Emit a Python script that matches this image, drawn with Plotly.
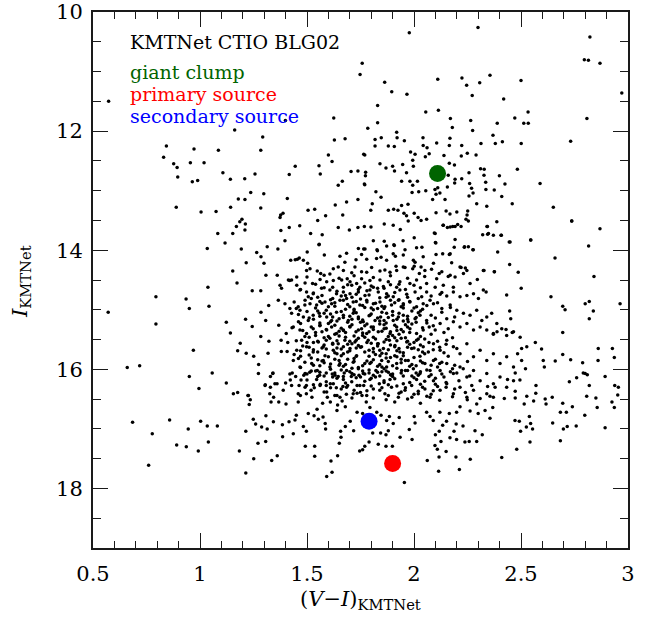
import plotly.graph_objects as go

# ---------------- data: (V-I, I) of field stars, grouped by CMD region ----------------
bright_field = [
    (1.978,10.35),(2.299,10.26),(2.822,10.42),(2.796,10.80),(2.815,10.81),(2.869,10.86),(1.758,10.86),
    (1.748,11.05),(1.863,11.18),(1.896,11.34),(1.967,11.38),(2.111,11.13),(2.224,11.11),(2.246,11.23),
    (2.307,11.19),(2.355,11.06),(2.272,11.40),(2.419,11.46),(2.50,11.15),(2.971,11.36),(1.830,11.57),
    (2.055,11.68),(2.114,11.65),(2.170,11.79),(2.265,11.82),(2.389,11.87),(2.471,11.78),(2.513,11.87),
    (2.534,11.87),(2.533,11.68),(2.808,11.79),(1.830,11.86),(1.784,11.95),(1.919,12.02),(1.921,12.11),
    (1.847,12.11),(1.818,12.14),(1.955,12.16),(2.042,12.11),(2.179,11.94),(2.274,11.99),(2.168,12.12),
    (2.369,12.07),(2.413,12.18),(2.732,12.17),(0.573,11.50),(1.399,11.82),(1.625,11.78),(1.162,11.98),
    (1.293,12.10),(1.628,12.15),(1.678,12.13),
]

disk_sequence = [
    (0.843,12.25),(0.972,12.30),(1.086,12.32),(1.284,12.32),(0.830,12.44),(0.877,12.55),(0.893,12.61),
    (0.955,12.53),(1.019,12.53),(0.896,12.77),(0.964,12.85),(0.989,12.83),(1.107,12.70),(1.142,12.81),
    (1.209,12.80),(1.257,12.72),(1.237,13.03),(1.298,13.05),(1.179,13.14),(1.210,13.15),(0.889,13.28),
    (1.005,13.36),(1.075,13.35),(1.143,13.28),(1.284,13.29),(1.408,13.13),(1.445,12.59),(1.417,12.73),
    (1.556,12.58),(1.562,12.72),(1.600,12.40),(1.617,12.51),(1.706,12.68),(1.738,12.67),(1.665,12.84),
    (1.646,12.91),(1.770,12.40),(1.773,12.75),(1.770,12.90),(1.738,13.15),(1.685,13.19),(1.632,13.24),
    (1.505,13.33),(1.536,13.31),(1.377,13.41),(1.388,13.38),(1.374,13.45),(1.196,13.48),(1.212,13.56),
    (1.186,13.52),(1.170,13.60),(1.210,13.66),(1.153,13.72),(1.083,13.72),(1.117,13.88),(1.034,13.97),
    (1.193,13.98),(1.378,13.67),(1.417,13.62),(1.466,13.59),(1.397,13.84),(1.517,13.72),(1.556,13.91),
    (1.571,13.74),(1.550,13.50),(1.587,13.42),(1.646,13.62),(1.698,13.66),(1.667,13.41),(1.738,13.62),
    (1.768,13.60),(1.314,13.94),(1.364,13.98),(1.265,14.04),(1.285,14.11),(1.501,14.03),(1.455,14.15),
    (1.153,14.35),(1.173,14.55),(1.216,14.21),(1.299,14.22),(1.308,14.42),(1.361,14.42),(1.419,14.51),
    (1.037,14.62),(0.794,14.78),(0.935,14.82),(0.950,14.98),(1.042,14.94),(0.571,15.04),(0.794,15.24),
    (1.123,15.21),(1.142,15.39),(0.969,15.68),(1.188,15.56),(1.176,15.69),(1.216,15.73),(1.251,15.78),
    (0.660,15.97),(0.718,15.94),(0.950,16.12),(1.057,16.06),(1.244,14.68),(1.284,14.68),(1.213,15.16),
    (1.285,15.04),(1.321,14.93),(1.244,15.28),(1.284,15.45),(1.307,15.18),(1.322,15.53),(1.318,15.73),
    (1.274,15.92),(1.273,16.07),(1.340,16.07),(1.380,15.70),(1.368,15.26),(1.403,15.40),(1.379,15.51),
    (1.407,15.70),
]

clump_rgb = [
    (1.818,12.25),(1.88,12.25),(1.908,12.26),(2.043,12.24),(2.061,12.28),(2.106,12.20),(2.165,12.24),
    (2.223,12.24),(2.313,12.21),(1.765,12.39),(1.841,12.55),(1.869,12.62),(1.900,12.59),(1.909,12.67),
    (1.947,12.56),(1.965,12.70),(1.984,12.35),(2.005,12.39),(1.994,12.49),(1.997,12.59),(2.053,12.43),
    (2.071,12.38),(2.140,12.41),(2.165,12.54),(2.189,12.57),(2.221,12.42),(2.249,12.37),(2.290,12.40),
    (2.311,12.63),(2.328,12.64),(2.327,12.74),(2.257,12.70),(2.223,12.80),(2.192,12.81),(2.160,12.74),
    (1.774,12.69),(1.768,12.89),(1.822,13.02),(1.846,13.11),(1.805,13.22),(1.798,13.33),(1.942,12.84),
    (1.981,12.84),(1.994,12.91),(2.016,12.84),(1.991,13.03),(2.022,13.02),(2.055,13.00),(2.098,12.98),
    (2.111,12.95),(2.121,13.04),(2.103,13.06),(2.087,13.15),(2.156,12.94),(2.190,12.87),(2.260,12.88),
    (2.269,12.96),(2.257,13.09),(2.276,13.04),(2.293,13.22),(2.335,12.86),(2.336,12.98),(2.375,12.99),
    (2.410,13.10),(2.340,13.26),(2.145,13.15),(1.880,13.33),(1.905,13.31),(1.925,13.33),(1.953,13.38),
    (1.972,13.23),(1.942,13.25),(1.965,13.42),(2.001,13.38),(2.019,13.45),(2.033,13.50),(2.059,13.48),
    (1.861,13.56),(1.936,13.65),(1.973,13.51),(1.903,13.58),(2.103,13.37),(2.150,13.34),(2.168,13.39),
    (2.200,13.36),(2.251,13.34),(2.248,13.41),(2.243,13.48),(2.136,13.58),(2.156,13.62),(2.181,13.60),
    (2.204,13.57),(2.095,13.71),(2.341,13.60),(2.344,13.73),(2.371,13.75),(2.408,13.75),(1.799,13.61),
    (1.810,13.84),(1.861,13.85),(1.908,13.92),(1.949,13.84),(2.001,13.79),(2.037,13.95),(2.100,13.87),
    (2.134,14.06),(2.165,14.07),(2.188,13.95),(2.235,13.95),(2.254,13.94),(2.277,13.99),(2.215,14.28),
    (2.240,14.30),(1.765,13.98),(1.829,14.01),(1.846,14.12),(1.913,14.10),(1.916,14.27),(1.958,14.29),
    (1.997,14.17),(2.001,14.27),(2.033,14.28),(2.082,14.32),(2.118,14.39),(2.160,14.44),
    (2.137,13.58),(2.169,13.61),(2.192,13.60),(2.220,13.60),(2.254,13.51),(2.343,13.60),(2.321,13.74),
    (2.348,13.72),(2.387,13.52),(2.407,13.75),(2.449,13.86),(2.546,13.83),(2.737,13.51),(2.192,13.82),
    (2.102,13.88),(2.099,13.72),(2.236,13.94),(2.275,13.99),(2.169,14.06),(2.103,14.07),(2.091,14.22),
    (2.176,14.21),(2.220,14.29),(2.247,14.34),(2.231,14.39),(2.130,14.36),(2.324,14.34),(2.376,14.36),
]

red_field = [
    (2.501,12.21),(2.380,12.21),(2.483,12.64),(2.589,12.88),(2.399,12.75),(2.425,12.89),(2.459,13.22),
    (2.651,13.28),(2.737,13.51),(2.869,13.64),(2.545,13.83),(2.445,13.86),(2.391,14.03),(2.659,14.13),
    (2.816,13.93),(2.447,14.24),(2.487,14.37),(2.375,14.36),(2.327,14.34),(2.841,14.44),(2.501,14.64),
    (2.640,14.78),(2.695,14.94),(2.706,15.00),(2.800,14.90),(2.819,14.86),(2.838,15.02),(2.819,15.15),
    (2.963,14.90),(2.447,15.02),(2.452,15.15),(2.433,14.75),(2.695,15.38),(2.695,15.75),(2.732,15.84),
    (2.788,15.89),(2.861,15.65),(2.860,15.85),(2.927,15.65),(2.936,15.80),(2.567,15.55),(2.596,15.66),
    (2.604,15.85),(2.660,15.86),(2.609,15.96),(2.800,16.07),(2.521,15.99),(2.503,15.65),(2.484,15.74),
    (2.459,15.38),(2.430,15.33),(2.388,15.37),(2.371,15.41),(2.503,15.85),(2.465,15.37),(2.433,15.43),
    (2.402,15.90),(2.433,15.79),(2.465,15.96),(2.496,15.46),(2.527,15.62),(2.402,16.13),(2.433,16.30),
    (2.465,16.19),
]

core_upper = [
    (1.557,13.90),(1.827,13.99),(1.872,13.93),(1.906,13.91),(1.903,14.06),(1.950,14.08),(1.825,14.14),
    (1.872,14.17),(1.958,13.99),(2.012,13.96),(2.043,14.11),(2.005,14.20),(1.729,14.16),(1.779,14.15),
    (1.677,14.20),(1.424,14.17),(1.445,14.16),(1.464,14.13),(1.483,14.17),(1.503,14.22),(1.581,14.08),
    (1.654,14.10),(1.685,14.05),(1.740,13.97),(1.771,13.98),(1.755,14.07),
    (1.428,14.50),(1.452,14.45),(1.498,14.34),(1.514,14.31),(1.548,14.35),(1.564,14.39),(1.607,14.40),
    (1.623,14.31),(1.646,14.28),(1.670,14.34),(1.688,14.48),(1.709,14.38),(1.724,14.28),(1.755,14.36),
    (1.779,14.37),(1.802,14.29),(1.841,14.35),(1.864,14.33),(1.888,14.37),(1.919,14.34),(1.950,14.28),
    (1.994,14.31),(2.025,14.39),(2.051,14.34),(2.059,14.56),(2.012,14.50),(1.981,14.56),(1.934,14.53),
    (1.880,14.53),(1.841,14.50),(1.794,14.51),(1.755,14.48),(1.732,14.56),(1.701,14.53),(1.662,14.50),
    (1.623,14.51),(1.592,14.53),(1.561,14.49),(1.526,14.56),(1.491,14.55),(1.452,14.59),(1.413,14.50),
    (1.374,14.59),(1.670,14.62),(1.709,14.59),(1.747,14.62),(1.810,14.62),(1.857,14.61),(1.919,14.62),
    (2.106,14.48),(2.099,14.62),(2.137,14.59),(2.184,14.62),(2.262,14.56),(2.296,14.49),(2.169,14.42),
    (2.192,14.45),
]

core_middle = [
    (1.381,14.64),(1.467,14.67),(1.498,14.70),(1.506,14.78),(1.529,14.73),(1.568,14.64),(1.607,14.67),
    (1.638,14.73),(1.670,14.70),(1.701,14.73),(1.740,14.70),(1.771,14.76),(1.794,14.67),(1.833,14.70),
    (1.872,14.73),(1.903,14.78),(1.934,14.67),(1.966,14.74),(2.005,14.70),(2.036,14.78),(2.059,14.70),
    (1.366,14.84),(1.397,14.90),(1.420,14.98),(1.459,14.95),(1.491,14.84),(1.514,14.90),(1.545,14.92),
    (1.584,14.87),(1.615,14.90),(1.654,14.84),(1.685,14.81),(1.716,14.87),(1.747,14.92),(1.779,14.84),
    (1.810,14.90),(1.841,14.87),(1.864,14.95),(1.895,14.92),(1.927,14.84),(1.950,14.92),(1.981,14.87),
    (2.012,14.95),(2.043,14.90),(2.075,14.84),(1.428,15.06),(1.467,15.01),(1.483,15.12),(1.506,15.18),
    (1.529,15.09),(1.557,15.06),(1.592,15.12),(1.615,15.18),(1.638,15.04),(1.670,15.09),(1.693,15.18),
    (1.716,15.06),(1.740,15.15),(1.763,15.20),(1.794,15.09),(1.818,15.18),(1.844,15.12),(1.872,15.06),
    (1.903,15.18),(1.927,15.12),(1.950,15.09),(1.973,15.20),(2.005,15.15),(2.028,15.09),(2.059,15.18),
    (1.436,15.29),(1.467,15.34),(1.498,15.40),(1.529,15.32),(1.561,15.26),(1.592,15.34),(1.615,15.29),
    (1.638,15.40),(1.670,15.34),(1.701,15.29),(1.729,15.37),(1.755,15.32),(1.779,15.40),(1.810,15.29),
    (1.833,15.37),(1.860,15.32),(1.888,15.40),(1.919,15.29),(1.950,15.37),(1.981,15.32),(2.012,15.40),
    (2.043,15.34),(2.071,15.29),(2.122,14.74),(2.153,14.77),(2.184,14.70),(2.215,14.78),(2.247,14.76),
    (2.278,14.73),(2.301,14.81),(2.324,14.67),(2.337,14.70),(2.091,14.90),(2.130,14.98),(2.169,14.92),
    (2.200,15.01),(2.231,15.06),(2.262,15.09),(2.293,15.01),(2.317,15.18),(2.340,15.12),(2.363,15.06),
    (2.387,15.23),(2.410,15.32),(2.371,15.40),(2.340,15.34),(2.309,15.29),(2.278,15.34),(2.247,15.23),
    (2.215,15.29),(2.184,15.20),(2.153,15.15),(2.122,15.23),(2.099,15.34),
]

core_lower = [
    (1.452,15.68),(1.475,15.51),(1.498,15.62),(1.529,15.71),(1.553,15.54),(1.576,15.62),(1.607,15.48),
    (1.623,15.68),(1.646,15.57),(1.677,15.51),(1.701,15.65),(1.724,15.54),(1.755,15.62),(1.786,15.51),
    (1.810,15.71),(1.833,15.57),(1.857,15.65),(1.885,15.51),(1.911,15.60),(1.934,15.71),(1.966,15.54),
    (1.989,15.65),(2.012,15.51),(2.043,15.62),(2.067,15.71),(1.584,15.77),(1.670,15.74),(1.732,15.77),
    (1.841,15.77),(1.950,15.77),(2.028,15.78),(1.436,15.85),(1.467,15.96),(1.491,16.07),(1.522,15.90),
    (1.548,16.02),(1.576,15.85),(1.607,15.96),(1.631,16.10),(1.654,15.90),(1.685,16.02),(1.716,15.88),
    (1.740,15.99),(1.763,16.07),(1.794,15.90),(1.822,16.02),(1.849,15.85),(1.872,15.96),(1.895,16.10),
    (1.919,15.90),(1.942,16.02),(1.973,15.85),(1.997,15.99),(2.028,16.07),(2.051,15.90),(2.075,16.02),
    (1.545,16.17),(1.670,16.17),(1.794,16.17),(1.888,16.17),(2.012,16.17),(1.523,16.47),(1.592,16.38),
    (1.623,16.24),(1.654,16.47),(1.685,16.30),(1.716,16.41),(1.747,16.27),(1.779,16.44),(1.810,16.33),
    (1.838,16.24),(1.864,16.41),(1.895,16.30),(1.927,16.47),(1.958,16.35),(1.989,16.27),(2.020,16.41),
    (2.051,16.33),(2.075,16.47),(2.091,15.57),(2.122,15.68),(2.153,15.51),(2.184,15.62),(2.215,15.74),
    (2.247,15.57),(2.278,15.79),(2.309,15.68),(2.340,15.85),(2.371,15.74),(2.091,15.85),(2.122,16.02),
    (2.153,15.90),(2.184,16.07),(2.215,15.96),(2.247,16.13),(2.278,16.02),(2.309,16.19),(2.340,16.07),
    (2.371,16.24),(2.091,16.19),(2.122,16.35),(2.153,16.24),(2.184,16.41),(2.215,16.30),(2.247,16.47),
    (2.278,16.35),(2.309,16.49),(2.340,16.41),(2.371,16.47),
]

core_dense = [
    (1.52,14.81),(1.57,14.76),(1.61,14.83),(1.66,14.77),(1.71,14.79),(1.75,14.82),(1.79,14.75),(1.84,14.80),
    (1.88,14.77),(1.93,14.83),(1.97,14.79),(2.02,14.81),(1.54,14.97),(1.59,15.01),(1.63,14.94),(1.68,14.99),
    (1.72,15.02),(1.77,14.96),(1.81,15.00),(1.86,14.98),(1.90,15.03),(1.95,14.97),(1.99,15.02),(2.04,14.99),
    (1.51,15.14),(1.56,15.11),(1.60,15.23),(1.65,15.15),(1.69,15.21),(1.74,15.12),(1.78,15.24),(1.83,15.14),
    (1.87,15.22),(1.92,15.16),(1.96,15.25),(2.01,15.13),(2.06,15.22),(1.49,15.45),(1.54,15.38),(1.58,15.47),
    (1.63,15.41),(1.67,15.35),(1.72,15.44),(1.76,15.39),(1.81,15.46),(1.85,15.36),(1.90,15.43),(1.94,15.48),
    (1.98,15.38),(2.03,15.45),(2.08,15.41),(1.48,15.61),(1.53,15.55),(1.57,15.64),(1.62,15.58),(1.66,15.66),
    (1.71,15.57),(1.75,15.63),(1.80,15.56),(1.84,15.68),(1.89,15.59),(1.93,15.65),(1.98,15.58),(2.02,15.67),
    (2.07,15.55),(2.12,15.63),(1.46,15.82),(1.51,15.76),(1.55,15.84),(1.60,15.79),(1.64,15.74),(1.69,15.83),
    (1.73,15.78),(1.78,15.86),(1.82,15.75),(1.87,15.81),(1.91,15.77),(1.96,15.85),(2.00,15.80),(2.05,15.74),
    (2.10,15.83),(2.16,15.78),(1.47,15.97),(1.52,16.03),(1.56,15.94),(1.61,16.00),(1.65,15.93),(1.70,16.04),
    (1.74,15.97),(1.79,16.01),(1.83,15.95),(1.88,16.05),(1.92,15.98),(1.97,16.02),(2.01,15.94),(2.06,16.01),
    (2.11,15.96),(2.17,16.04),(2.23,15.99),(1.50,16.18),(1.55,16.12),(1.59,16.21),(1.64,16.15),(1.68,16.23),
    (1.73,16.14),(1.77,16.20),(1.82,16.13),(1.86,16.22),(1.91,16.16),(1.95,16.24),(2.00,16.14),(2.05,16.20),
    (2.10,16.15),(2.15,16.22),(1.45,14.98),(1.43,15.30),(1.41,15.55),(1.44,15.75),(1.42,16.08),(1.62,14.62),
    (1.69,14.58),(1.74,14.66),(1.80,14.60),(1.86,14.64),(1.93,14.57),(1.58,16.38),(1.66,16.33),(1.75,16.39),
    (1.84,16.35),(1.93,16.40),(2.02,16.37),(1.77,16.08),(1.80,16.15),(1.83,16.05),(1.86,16.19),(1.89,16.09),
    (1.92,16.28),(1.95,16.11),(1.98,16.22),(2.01,16.06),(2.04,16.30),(2.07,16.12),(2.10,16.25),(2.13,16.08),
    (1.78,16.36),(1.81,16.48),(1.85,16.31),(1.88,16.44),(1.91,16.55),(1.94,16.38),(1.97,16.50),(2.00,16.42),
    (2.03,16.57),(2.06,16.45),(2.09,16.36),(2.12,16.52),(2.15,16.30),(2.18,16.46),(2.21,16.19),(2.24,16.39),
    (2.27,16.27),
]

core_peak = [
    (1.47,14.66),(1.53,14.72),(1.58,14.63),(1.64,14.69),(1.73,14.74),(1.78,14.68),(1.83,14.64),(1.91,14.71),
    (1.96,14.66),(2.03,14.63),(2.08,14.77),(1.55,14.79),(1.68,14.76),(1.87,14.79),(2.13,14.71),
    (1.44,14.87),(1.49,14.92),(1.56,14.86),(1.60,14.95),(1.63,14.88),(1.69,14.91),(1.73,14.86),(1.76,14.93),
    (1.82,14.89),(1.85,14.94),(1.91,14.88),(1.94,14.95),(1.98,14.86),(2.06,14.93),(2.11,14.88),(2.17,14.96),
    (1.67,14.84),(1.80,14.97),(1.46,15.08),(1.50,15.03),(1.53,15.16),(1.58,15.06),(1.62,15.12),(1.66,15.03),
    (1.70,15.11),(1.73,15.05),(1.76,15.17),(1.80,15.07),(1.85,15.04),(1.88,15.13),(1.93,15.06),(1.97,15.11),
    (2.02,15.05),(2.08,15.09),(2.13,15.04),(2.19,15.12),(1.64,15.19),(1.71,15.16),(1.86,15.18),(1.95,15.19),
    (1.47,15.23),(1.52,15.29),(1.56,15.22),(1.59,15.33),(1.63,15.26),(1.66,15.31),(1.71,15.25),(1.74,15.34),
    (1.77,15.27),(1.81,15.33),(1.84,15.24),(1.87,15.31),(1.91,15.26),(1.94,15.33),(1.99,15.24),(2.04,15.30),
    (2.09,15.27),(2.16,15.32),(1.68,15.38),(1.79,15.37),(1.89,15.37),(1.57,15.37),(1.45,15.52),(1.51,15.46),
    (1.55,15.53),(1.60,15.45),(1.64,15.52),(1.68,15.46),(1.70,15.53),(1.74,15.48),(1.78,15.55),(1.82,15.49),
    (1.86,15.54),(1.88,15.45),(1.92,15.52),(1.96,15.47),(2.00,15.55),(2.05,15.49),(2.11,15.53),(2.18,15.47),
    (1.62,15.56),(1.76,15.43),(1.93,15.41),(1.47,15.69),(1.51,15.63),(1.55,15.71),(1.59,15.66),(1.63,15.72),
    (1.67,15.62),(1.70,15.69),(1.73,15.64),(1.77,15.71),(1.81,15.65),(1.85,15.73),(1.88,15.67),(1.91,15.62),
    (1.95,15.72),(2.00,15.64),(2.04,15.71),(2.09,15.67),(2.14,15.72),(2.20,15.65),(1.66,15.77),(1.79,15.78),
    (1.92,15.79),(1.49,15.88),(1.53,15.93),(1.57,15.86),(1.61,15.91),(1.65,15.85),(1.68,15.92),(1.72,15.87),
    (1.76,15.94),(1.80,15.88),(1.84,15.92),(1.88,15.87),(1.90,15.94),(1.94,15.89),(1.99,15.92),(2.03,15.86),
    (2.08,15.93),(2.13,15.88),(2.19,15.93),(2.25,15.87),(1.71,15.98),(1.86,15.99),(1.50,16.08),(1.54,16.03),
    (1.58,16.11),(1.63,16.06),(1.67,16.12),(1.71,16.07),(1.75,16.13),(1.79,16.06),(1.84,16.11),(1.87,16.03),
    (1.90,16.12),(1.94,16.06),(1.99,16.11),(2.03,16.04),(2.08,16.09),(2.14,16.13),(2.20,16.06),(2.26,16.11),
    (1.53,16.26),(1.61,16.31),(1.69,16.27),(1.72,16.35),(1.80,16.28),(1.88,16.26),(1.96,16.31),(2.03,16.25),
    (2.11,16.29),(2.19,16.33),(1.63,16.44),(1.71,16.48),(1.87,16.51),(1.99,16.47),(2.08,16.42),(1.50,14.45),
    (1.58,14.42),(1.65,14.47),(1.72,14.43),(1.81,14.46),(1.89,14.43),(1.97,14.47),(2.05,14.44),(1.54,14.57),
    (1.77,14.55),(1.89,14.58),(2.00,14.59),
]

core_center = [
    (1.57,14.89),(1.62,14.81),(1.70,14.95),(1.78,14.87),(1.83,14.98),(1.89,14.84),(1.95,14.90),(2.00,14.97),
    (1.55,15.02),(1.61,15.07),(1.67,15.13),(1.72,14.99),(1.79,15.10),(1.84,15.19),(1.90,15.09),(1.97,15.16),
    (2.03,15.02),(1.56,15.27),(1.61,15.20),(1.65,15.36),(1.70,15.28),(1.75,15.21),(1.80,15.29),(1.86,15.25),
    (1.92,15.35),(1.97,15.29),(2.01,15.21),(1.54,15.43),(1.59,15.51),(1.65,15.44),(1.69,15.58),(1.73,15.51),
    (1.77,15.46),(1.83,15.57),(1.87,15.50),(1.91,15.47),(1.97,15.53),(2.02,15.49),(1.53,15.67),(1.58,15.59),
    (1.64,15.64),(1.69,15.71),(1.74,15.60),(1.79,15.68),(1.83,15.61),(1.87,15.74),(1.92,15.69),(1.97,15.63),
    (2.03,15.59),(1.52,15.81),(1.58,15.89),(1.63,15.83),(1.67,15.95),(1.72,15.82),(1.77,15.90),(1.81,15.84),
    (1.85,15.96),(1.89,15.80),(1.94,15.83),(1.98,15.95),(2.04,15.89),(1.56,16.05),(1.62,16.13),(1.66,16.01),
    (1.72,16.09),(1.76,16.03),(1.81,16.10),(1.85,16.04),(1.90,16.08),(1.96,16.02),(2.02,16.10),(1.48,15.35),
    (1.50,15.55),(1.47,15.78),(1.46,15.20),(2.10,15.14),(2.14,15.38),(2.15,15.58),(2.12,15.90),(2.18,15.99),
]

faint_blue = [
    (0.995,16.32),(1.123,16.23),(1.176,16.39),(1.224,16.44),(1.235,16.51),(1.230,16.59),(0.685,16.89),
    (0.858,16.85),(0.777,17.08),(0.945,17.00),(1.003,16.87),(1.034,16.95),(1.081,16.95),(0.891,17.27),
    (0.936,17.30),(0.992,17.37),(1.039,17.22),(0.760,17.61),(1.184,17.37),(1.214,17.04),(1.251,17.50),
    (1.214,17.74),(1.249,16.84),(1.271,17.24),(1.260,16.92),(1.288,16.97),(1.308,16.78),(1.314,17.00),
    (1.343,16.88),(1.307,17.21),(1.335,17.53),(1.361,17.45),(1.385,16.93),(1.386,17.13),(1.416,16.88),
    (1.436,17.08),(1.444,16.85),(1.450,16.77),(1.483,16.96),(1.497,17.04),(1.492,17.29),(1.536,17.29),
    (1.536,17.46),(1.506,16.74),(1.533,16.78),(1.553,16.84),(1.575,16.80),(1.585,16.91),(1.587,17.00),
    (1.612,17.54),(1.617,17.73),(1.592,17.80),(1.643,17.45),(1.651,17.24),(1.657,17.04),(1.659,17.14),
    (1.679,16.96),(1.702,16.87),(1.718,17.03),(1.746,17.37),(1.770,17.29),(1.329,16.12),(1.341,16.06),
    (1.431,16.06),(1.447,16.12),(1.485,16.10),(1.513,16.05),(1.559,16.10),(1.590,16.06),(1.618,16.08),
    (1.646,16.12),(1.674,16.06),(1.707,16.12),(1.743,16.10),(1.305,16.26),(1.329,16.30),(1.360,16.24),
    (1.400,16.23),(1.422,16.18),(1.463,16.27),(1.472,16.18),(1.497,16.27),(1.534,16.31),(1.562,16.25),
    (1.590,16.27),(1.609,16.24),(1.637,16.31),(1.668,16.29),(1.709,16.21),(1.734,16.27),(1.765,16.27),
    (1.326,16.41),(1.344,16.47),(1.332,16.55),(1.368,16.55),(1.402,16.58),(1.459,16.55),(1.469,16.44),
    (1.497,16.41),(1.519,16.35),(1.547,16.67),(1.573,16.57),(1.595,16.47),(1.609,16.55),(1.640,16.44),
    (1.643,16.60),(1.664,16.53),(1.640,16.69),(1.684,16.42),(1.679,16.63),(1.734,16.40),(1.757,16.44),
    (1.734,16.72),(1.777,16.55),(1.156,16.41),(1.226,16.44),(1.304,16.27),(1.350,16.24),(1.389,16.35),
    (1.428,16.27),(1.459,16.41),(1.491,16.30),(1.561,16.27),
]

faint_red = [
    (1.760,17.35),(1.790,17.22),(1.807,17.07),(1.844,17.07),(1.869,17.10),(1.833,17.26),(1.869,17.29),
    (1.899,17.29),(1.880,17.03),(1.935,17.14),(1.978,17.01),(1.991,17.18),(1.955,17.90),(2.062,17.53),
    (2.115,17.71),(2.117,17.47),(2.098,17.28),(2.109,17.34),(2.150,17.38),(2.126,17.21),(2.100,17.10),
    (2.118,17.04),(2.168,17.15),(2.199,17.18),(2.196,17.47),(2.212,17.68),(2.238,17.22),(2.258,17.21),
    (2.293,17.21),(2.263,17.51),(2.319,17.10),(2.285,17.03),(2.229,16.95),(2.187,17.04),(2.134,16.94),
    (2.152,16.87),(2.197,16.92),(2.410,17.48),(2.480,17.34),(2.542,17.22),(2.684,17.20),(2.472,16.86),
    (2.498,17.04),(2.525,16.97),(2.545,16.91),(2.554,17.00),(2.539,16.79),(2.492,16.87),(2.648,16.90),
    (2.698,17.00),(2.716,16.96),(2.758,16.95),(2.798,16.77),(2.893,16.98),(2.684,16.72),(2.712,16.72),
    (2.695,16.57),(2.740,16.63),(2.646,16.47),(2.613,16.50),(2.617,16.58),(2.559,16.53),(2.569,16.40),
    (2.527,16.45),(2.515,16.58),(2.473,16.48),(2.473,16.37),(2.495,16.18),(2.473,16.06),(2.422,16.49),
    (2.437,16.17),(2.379,16.30),(2.570,16.27),(2.726,16.21),(2.760,16.14),(2.791,16.06),(2.810,16.09),
    (2.819,16.27),(2.807,16.45),(2.850,16.48),(2.856,16.64),(2.893,16.12),(2.938,16.27),(2.955,16.30),
    (2.952,16.43),(2.925,16.55),(2.936,16.64),(2.344,16.29),(2.355,16.45),(2.368,16.64),(2.355,16.82),
    (2.332,16.69),(2.300,16.74),(2.293,16.58),(2.262,16.70),(2.249,16.51),(2.215,16.63),(2.199,16.72),
    (2.165,16.74),(2.121,16.72),(2.090,16.86),(2.075,16.79),(2.005,16.90),(2.001,16.79),(1.931,16.81),
    (1.903,16.91),(1.885,16.79),(1.872,16.86),(1.846,16.77),(1.826,16.72),(1.794,16.64),(1.760,16.74),
    (2.059,16.72),
]

# highlighted stars
giant_clump = (2.11, 12.71)
primary_source = (1.90, 17.58)
secondary_source = (1.79, 16.87)

legend_lines = ["KMTNet CTIO BLG02", "giant clump", "primary source", "secondary source"]
legend_colors = ["black", "#006400", "#ff0000", "#0000ff"]

# ---------------- figure ----------------
field = (bright_field + disk_sequence + clump_rgb + red_field + core_upper + core_middle
         + core_lower + core_dense + core_peak + core_center + faint_blue + faint_red)
fx = [p[0] for p in field]
fy = [p[1] for p in field]

fig = go.Figure()
fig.add_trace(go.Scatter(x=fx, y=fy, mode="markers",
                         marker=dict(size=3.5, color="black", line=dict(width=0)),
                         hoverinfo="skip", showlegend=False))
for pt, col in [(giant_clump, "#006400"), (primary_source, "#ff0000"), (secondary_source, "#0000ff")]:
    fig.add_trace(go.Scatter(x=[pt[0]], y=[pt[1]], mode="markers",
                             marker=dict(size=17, color=col, line=dict(width=0)),
                             showlegend=False))

serif = "DejaVu Serif"
L, R, T, B = 93, 27, 12, 72
W, H = 655, 620
pw, ph = W - L - R, H - T - B

axis_common = dict(
    showline=True, linecolor="#1a1a1a", linewidth=2, mirror="ticks",
    ticks="inside", tickwidth=1.3, ticklen=15, tickcolor="#1a1a1a",
    showgrid=False, zeroline=False, automargin=False,
    tickfont=dict(family=serif, size=21, color="black"),
)
fig.update_xaxes(range=[0.5, 3.0], tick0=0.5, dtick=0.5,
                 minor=dict(ticks="inside", ticklen=7, dtick=0.1, tickwidth=1.3, tickcolor="#1a1a1a", showgrid=False),
                 ticklabelstandoff=6, **axis_common)
fig.update_yaxes(range=[19, 10], tick0=10, dtick=2,
                 minor=dict(ticks="inside", ticklen=8, dtick=0.5, tickwidth=1.3, tickcolor="#1a1a1a", showgrid=False),
                 ticklabelstandoff=4, **axis_common)

annotations = []
line_px = [42, 72, 94, 116]
for text, col, py in zip(legend_lines, legend_colors, line_px):
    annotations.append(dict(text=text, x=(128 - L) / pw, y=(H - B - py) / ph, xref="paper", yref="paper",
                            xanchor="left", yanchor="middle", showarrow=False,
                            font=dict(family=serif, size=19, color=col)))
annotations.append(dict(text="(<i>V</i>−<i>I</i>)<sub>KMTNet</sub>", x=(360 - L) / pw, y=0,
                        xref="paper", yref="paper", xanchor="center", yanchor="middle", yshift=-52,
                        showarrow=False, font=dict(family=serif, size=21, color="black")))
annotations.append(dict(text="<i>I</i><sub>KMTNet</sub>", x=0, y=(H - B - 282) / ph,
                        xref="paper", yref="paper", xanchor="center", yanchor="middle", xshift=-72,
                        textangle=-90, showarrow=False, font=dict(family=serif, size=21, color="black")))

fig.update_layout(width=W, height=H, margin=dict(l=L, r=R, t=T, b=B, pad=0, autoexpand=False),
                  paper_bgcolor="white", plot_bgcolor="white", showlegend=False,
                  annotations=annotations)

fig.write_html("out.html")
